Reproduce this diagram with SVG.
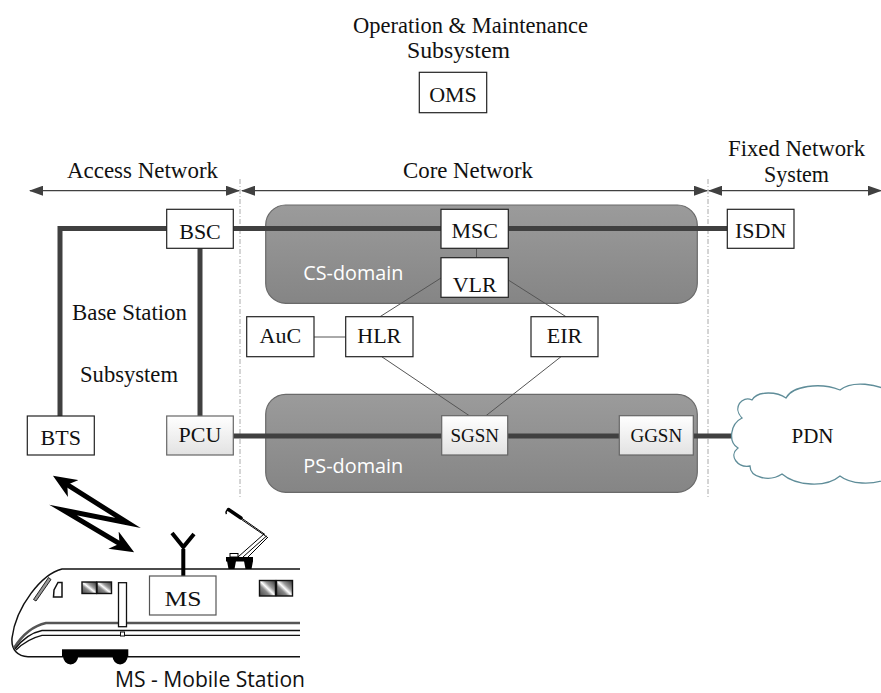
<svg xmlns="http://www.w3.org/2000/svg" width="881" height="693" viewBox="0 0 881 693">
<style>
.lbl{font-family:"Liberation Serif","Times New Roman",serif;font-size:22px;fill:#111;text-anchor:middle}
.sm{font-size:19px}
.ttl{font-family:"Liberation Serif","Times New Roman",serif;font-size:22.5px;fill:#111}
.box{fill:#fff;stroke:#222;stroke-width:1.2}
.gbox{fill:url(#gb);stroke:#666;stroke-width:1.2}
.dom{fill:url(#gd);stroke:#6a6a6a;stroke-width:1.2}
.domt{font-family:"Open Sans","Noto Sans",sans-serif;font-size:20px;fill:#fff}
.thick{fill:none;stroke:#404040;stroke-width:5}
.thin{fill:none;stroke:#555;stroke-width:1}
.dash{fill:none;stroke:#aaa;stroke-width:1;stroke-dasharray:5 2 1 2}
.span{fill:none;stroke:#404040;stroke-width:1.3;marker-start:url(#ah);marker-end:url(#ah)}
.sans{font-family:"Open Sans","Noto Sans",sans-serif;font-size:21px;fill:#111}
.tr{fill:none;stroke:#111;stroke-width:1.5}
.win{fill:url(#gw);stroke:#111;stroke-width:1.4}
</style>
<defs>
<linearGradient id="gb" x1="0" y1="0" x2="0" y2="1"><stop offset="0" stop-color="#ffffff"/><stop offset="1" stop-color="#e2e2e2"/></linearGradient>
<linearGradient id="gd" x1="0" y1="0" x2="0" y2="1"><stop offset="0" stop-color="#9b9b9b"/><stop offset="1" stop-color="#858585"/></linearGradient>
<linearGradient id="gw" x1="0" y1="1" x2="1" y2="0"><stop offset="0" stop-color="#444"/><stop offset="0.35" stop-color="#888"/><stop offset="0.5" stop-color="#fff"/><stop offset="0.65" stop-color="#999"/><stop offset="1" stop-color="#333"/></linearGradient>
<marker id="ah" viewBox="0 0 14 10" markerWidth="14" markerHeight="10" refX="13" refY="5" orient="auto-start-reverse" markerUnits="userSpaceOnUse"><path d="M0,0 L14,5 L0,10 Z" fill="#404040"/></marker>
<marker id="bh" viewBox="0 0 24 20" markerWidth="24" markerHeight="20" refX="10" refY="10" orient="auto-start-reverse" markerUnits="userSpaceOnUse"><path d="M0,0 L24,10 L0,20 L7,10 Z" fill="#000"/></marker>
</defs>
<rect width="881" height="693" fill="#fff"/>

<g id="titles">
<text class="ttl" x="353" y="33" textLength="235" lengthAdjust="spacingAndGlyphs">Operation &amp; Maintenance</text>
<text class="ttl" x="407" y="58" textLength="103" lengthAdjust="spacingAndGlyphs">Subsystem</text>
<text class="ttl" x="67" y="178" textLength="151" lengthAdjust="spacingAndGlyphs">Access Network</text>
<text class="ttl" x="403" y="178" textLength="130" lengthAdjust="spacingAndGlyphs">Core Network</text>
<text class="ttl" x="728" y="156" textLength="137" lengthAdjust="spacingAndGlyphs">Fixed Network</text>
<text class="ttl" x="764" y="182" textLength="65" lengthAdjust="spacingAndGlyphs">System</text>
<text class="ttl" x="72" y="320" textLength="115" lengthAdjust="spacingAndGlyphs">Base Station</text>
<text class="ttl" x="80" y="382" textLength="98" lengthAdjust="spacingAndGlyphs">Subsystem</text>
</g>
<g id="spans">
<path class="dash" d="M240,179 V498 M708,179 V498"/>
<path class="span" d="M30,190.7 H239"/>
<path class="span" d="M242,190.7 H707"/>
<path class="span" d="M709,190.7 H881"/>
</g>

<g id="cs-domain">
<rect class="dom" x="265.7" y="205" width="431.6" height="98.3" rx="20"/>
<text class="domt" x="303.3" y="280" textLength="100" lengthAdjust="spacingAndGlyphs">CS-domain</text>
</g>
<g id="ps-domain">
<rect class="dom" x="265.7" y="394.3" width="431.6" height="98" rx="20"/>
<text class="domt" x="303.3" y="473" textLength="100" lengthAdjust="spacingAndGlyphs">PS-domain</text>
</g>

<g id="connectors">
<path class="thick" d="M233,228.5 H441"/>
<path class="thick" d="M508,228.5 H727"/>
<path class="thick" d="M167,228.5 H60 V416"/>
<path class="thick" d="M200,248 V416"/>
<path class="thick" d="M233,436 H442"/>
<path class="thick" d="M508,436 H619"/>
<path class="thick" d="M693,436 H734"/>
<path class="thin" d="M476.5,248.3 V257.7"/>
<path class="thin" d="M441,278 L380,316.7"/>
<path class="thin" d="M508.3,280 L566,316.7"/>
<path class="thin" d="M314,337 H345.7"/>
<path class="thin" d="M381.7,356.7 L469.3,415.7"/>
<path class="thin" d="M561,356.7 L486,415.7"/>
</g>

<g id="oms"><rect class="box" x="419.3" y="72.3" width="67.4" height="40.4"/><text class="lbl" x="453" y="101.7">OMS</text></g>
<g id="bsc"><rect class="box" x="166.7" y="209.3" width="66.6" height="39"/><text class="lbl" x="200" y="239">BSC</text></g>
<g id="bts"><rect class="box" x="27.3" y="416" width="67" height="39"/><text class="lbl" x="60.8" y="445">BTS</text></g>
<g id="pcu"><rect class="gbox" x="166.7" y="416" width="66.6" height="39"/><text class="lbl" x="200" y="441.7">PCU</text></g>
<g id="msc"><rect class="box" x="441" y="209.3" width="67.3" height="39"/><text class="lbl" x="474.7" y="238.3">MSC</text></g>
<g id="vlr"><rect class="box" x="441" y="257.7" width="67.3" height="39.6"/><text class="lbl" x="474.7" y="291.7">VLR</text></g>
<g id="auc"><rect class="box" x="246.7" y="316.7" width="67.3" height="40"/><text class="lbl" x="280.3" y="343.3">AuC</text></g>
<g id="hlr"><rect class="box" x="345.7" y="316.7" width="67.3" height="40"/><text class="lbl" x="379.3" y="343.3">HLR</text></g>
<g id="eir"><rect class="box" x="531" y="316.7" width="67" height="40"/><text class="lbl" x="564.5" y="343.3">EIR</text></g>
<g id="sgsn"><rect class="gbox" x="441.7" y="415.7" width="66" height="39.3"/><text class="lbl sm" x="474.7" y="441.7">SGSN</text></g>
<g id="ggsn"><rect class="gbox" x="619.3" y="415.7" width="74" height="39.3"/><text class="lbl sm" x="656.3" y="441.7">GGSN</text></g>
<g id="isdn"><rect class="box" x="727.3" y="209.3" width="66.7" height="39"/><text class="lbl" x="760.7" y="238.3">ISDN</text></g>
<g id="pdn">
<path d="M742,418 C732,408 742,395 752,400 C758,390 778,392 786,398 C792,386 820,382 840,390 C852,380 878,384 890,392 L890,478 C872,486 850,484 840,476 C826,488 796,486 782,474 C770,482 750,478 750,466 C738,468 728,456 738,448 C728,442 730,424 742,418 Z" fill="#fff" stroke="#5f8d99" stroke-width="1.3"/>
<text class="lbl" x="812.5" y="442.5" style="font-size:21px">PDN</text>
</g>

<g id="radio">
<path d="M64.8,483.1 L128,523 L63,510 L122.1,545.2" fill="none" stroke="#000" stroke-width="5" stroke-linejoin="miter" stroke-miterlimit="10" marker-start="url(#bh)" marker-end="url(#bh)"/>
</g>

<g id="train">
<path class="tr" d="M300,569 L62,569 C42,574 16,606 12,638 C11,650 18,656.7 28,656.7 L300,656.7"/>
<path d="M300,623 L46,623 C32,626 21,637 14,648" fill="none" stroke="#555" stroke-width="2.5"/>
<path d="M300,630.5 L42,630.5 C30,633 21,641 15,649" fill="none" stroke="#111" stroke-width="1.3"/>
<path d="M300,635.3 L42,635.3 C31,638 22,644 16,650" fill="none" stroke="#111" stroke-width="1.3"/>
<path d="M48.5,577.5 L51,579.5 L36,601 L33.5,599.5 Z" fill="#999" stroke="#111" stroke-width="0.9"/>
<path d="M58,582.5 L62,582.5 L62,597 L53.5,597 L54,590 Z" fill="#fff" stroke="#111" stroke-width="1.5"/>
<rect class="win" x="82" y="582" width="14.5" height="11.5"/>
<rect class="win" x="97" y="582" width="14.5" height="11.5"/>
<rect class="win" x="259.5" y="580.5" width="16" height="15.5"/>
<rect class="win" x="276.5" y="580.5" width="16" height="15.5"/>
<rect x="118.5" y="582.7" width="8" height="44" fill="#fff" stroke="#111" stroke-width="1.3"/>
<rect x="120.5" y="632" width="4" height="4" fill="#fff" stroke="#111" stroke-width="1"/>
<rect x="62" y="649.3" width="66.3" height="7.4" fill="#000"/>
<path d="M63,656 A7.6,8.5 0 0 0 78.2,656 Z M112.5,656 A7.6,8.5 0 0 0 127.7,656 Z" fill="#000"/>
<path d="M183.3,549 V576 M172,533 L183.3,547 L194,534" fill="none" stroke="#000" stroke-width="4"/>
<path d="M226,557 H253 V561.5 H226 Z" fill="#000"/>
<path d="M227,561 L236,561 L234.5,569 L228.5,569 Z M244,561 L253,561 L251.5,569 L245.5,569 Z" fill="#000"/>
<rect x="230" y="553.5" width="8" height="3.5" fill="#fff" stroke="#000" stroke-width="1"/>
<path d="M238,557 L264,534 M243,557 L266.5,536 M248,557 L268,537 M265,534.5 L240,517 M267,537 L241.5,519.5" fill="none" stroke="#000" stroke-width="1"/>
<path d="M241,518 L228.5,509.5" fill="none" stroke="#000" stroke-width="3.5" stroke-linecap="round"/>
<path d="M228.5,509.5 C226,510.5 225.5,512.5 226.5,514" fill="none" stroke="#000" stroke-width="1.5"/>
</g>
<g id="ms"><rect x="149.5" y="576" width="66.5" height="39" fill="#fff" stroke="#555" stroke-width="1.2"/><text class="lbl" x="183" y="606" textLength="37" lengthAdjust="spacingAndGlyphs">MS</text></g>
<text class="sans" x="115" y="687" textLength="190" lengthAdjust="spacingAndGlyphs">MS - Mobile Station</text>
</svg>
